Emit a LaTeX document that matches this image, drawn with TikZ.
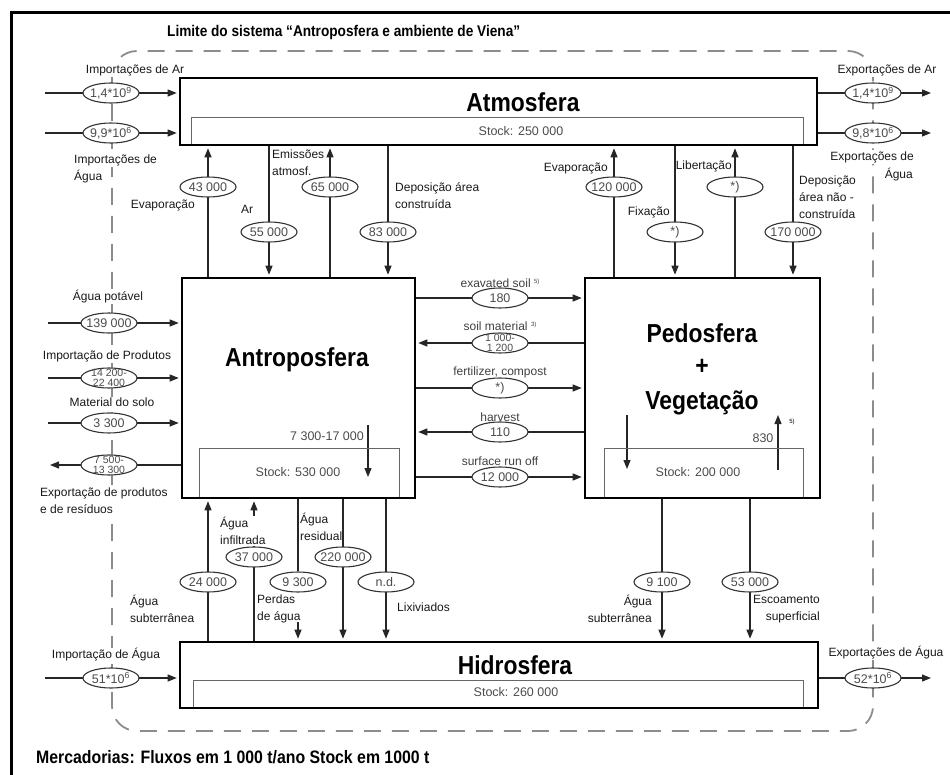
\documentclass[tikz,border=0pt]{standalone}
\usepackage{fontspec}
\setmainfont{Liberation Sans}
\newfontfamily\narrowfont[FakeStretch=0.88]{Liberation Sans}
\usetikzlibrary{shapes.geometric,arrows.meta,backgrounds}

% type sizes
\newcommand\spherefont{\narrowfont\bfseries\fontsize{26}{30}\selectfont}
\newcommand\labfont{\fontsize{12}{17}\selectfont}
\newcommand\valfont{\fontsize{12.5}{13}\selectfont}
\newcommand\pairfont{\fontsize{10.5}{10.5}\selectfont}
\newcommand\headfont{\narrowfont\bfseries\fontsize{15.5}{17}\selectfont}
\newcommand\notefont{\narrowfont\bfseries\fontsize{18}{20}\selectfont}
\newcommand\fnmark[1]{{\fontsize{6}{6}\selectfont\raisebox{4pt}{#1}}}

\tikzset{
  sphere/.style={draw=black, line width=2.6pt, inner sep=0pt},
  stockbox/.style={draw=black!60, line width=0.9pt, inner sep=0pt},
  spheretitle/.style={font=\spherefont, inner sep=0pt},
  stocktext/.style={font=\valfont, text=black!70, inner sep=0pt},
  flow/.style={draw=black!85, line width=1.2pt},
  arr/.style={flow, -{Triangle[length=9pt,width=7pt]}, shorten >=2pt},
  val/.style={ellipse, draw=black!80, line width=1.1pt, fill=white,
    minimum width=56pt, minimum height=20pt, inner xsep=-10pt, inner ysep=-3pt,
    text=black!70, font=\valfont, align=center},
  pairval/.style={val, font=\pairfont, inner ysep=-5pt},
  lbl/.style={inner sep=1pt, font=\labfont, text=black!90},
  flowlbl/.style={lbl, text=black!75},
  boundary/.style={draw=black!45, line width=1.8pt, dash pattern=on 17pt off 11pt,
    rounded corners=25pt},
}

\begin{document}
\begin{tikzpicture}[x=1pt,y=-1pt]
\useasboundingbox (0,0) rectangle (950,775);

% frame
\draw[line width=3pt] (11,775) -- (11,13) -- (950,13);

\node[anchor=west, font=\headfont, inner sep=0pt] (limite) at (167,32)
  {Limite do sistema “Antroposfera e ambiente de Viena”};

% ---------------- compartments ----------------
\node[stockbox, minimum width=612pt, minimum height=28pt] (atmoStock) at (497,131) {};
\node[sphere, minimum width=637pt, minimum height=67pt] (atmo) at (498.5,111.5) {};
\node[spheretitle] (atmoTitle) at (523,102) {Atmosfera};
\node[stocktext] (atmoStockTxt) at (521,131) {Stock: 250 000};

\node[stockbox, minimum width=200pt, minimum height=50pt] (antroStock) at (299,473) {};
\node[sphere, minimum width=233pt, minimum height=220pt] (antro) at (298.5,388) {};
\node[spheretitle] (antroTitle) at (297,360) {Antroposfera};
\node[stocktext] (antroStockTxt) at (298,472) {Stock: 530 000};

\node[stockbox, minimum width=199pt, minimum height=50pt] (pedoStock) at (703.5,473) {};
\node[sphere, minimum width=235pt, minimum height=220pt] (pedo) at (702.5,388) {};
\node[spheretitle] (pedoTitle) at (702,333) {Pedosfera};
\node[spheretitle] (pedoPlus) at (702,367) {+};
\node[spheretitle] (pedoTitleB) at (702,403) {Vegetação};
\node[stocktext] (pedoStockTxt) at (698,472) {Stock: 200 000};

\node[stockbox, minimum width=610pt, minimum height=28pt] (hidroStock) at (498,694) {};
\node[sphere, minimum width=638pt, minimum height=66pt] (hidro) at (499,675) {};
\node[spheretitle] (hidroTitle) at (515,665) {Hidrosfera};
\node[stocktext] (hidroStockTxt) at (516,692) {Stock: 260 000};

% ---------------- air and water across the boundary ----------------
\node[lbl, fill=white] (lArIn) at (135,70) {Importações de Ar};
\node[val] (vArIn) at (111,93) {1,4*10\textsuperscript{9}};
\node[val] (vAgIn) at (111,133) {9,9*10\textsuperscript{6}};
\node[lbl, fill=white, anchor=west] (lAgInA) at (73,160) {Importações de};
\node[lbl, anchor=west] (lAgInB) at (73,177) {Água};
\coordinate (inAr) at (45,93);
\coordinate (inAg) at (45,133);

\node[lbl, fill=white] (lArOut) at (887,70) {Exportações de Ar};
\node[val] (vArOut) at (873,93) {1,4*10\textsuperscript{9}};
\node[val] (vAgOut) at (873,133) {9,8*10\textsuperscript{6}};
\node[lbl, fill=white, anchor=east] (lAgOutA) at (915,157) {Exportações de};
\node[lbl, anchor=east] (lAgOutB) at (914,175) {Água};
\coordinate (outAr) at (933,93);
\coordinate (outAg) at (933,133);

% ---------------- Atmosfera <-> Antroposfera ----------------
\node[val] (v43) at (208,187) {43 000};
\node[lbl, anchor=east] (l43) at (196,205) {Evaporação};
\node[val] (v55) at (269,232) {55 000};
\node[lbl] (l55) at (247,209) {Ar};
\node[val] (v65) at (330,187) {65 000};
\node[lbl, anchor=west, align=left] (l65) at (271,163) {Emissões\\atmosf.};
\node[val] (v83) at (388,232) {83 000};
\node[lbl, anchor=west, align=left] (l83) at (394,196) {Deposição área\\construída};

% ---------------- Atmosfera <-> Pedosfera ----------------
\node[val] (v120) at (614,187) {120 000};
\node[lbl, anchor=east] (l120) at (609,168) {Evaporação};
\node[val] (vFix) at (675,232) {*)};
\node[lbl, anchor=east] (lFix) at (671,212) {Fixação};
\node[val] (vLib) at (735,187) {*)};
\node[lbl, anchor=east] (lLib) at (733,166) {Libertação};
\node[val] (v170) at (793,232) {170 000};
\node[lbl, anchor=west, align=left] (l170) at (798,197) {Deposição\\área não -\\construída};

% ---------------- Antroposfera <-> Pedosfera ----------------
\node[val] (v180) at (500,298) {180};
\node[flowlbl] (l180) at (500,283) {exavated soil \fnmark{5)}};
\node[pairval] (vSoil) at (500,343) {1 000-\\1 200};
\node[flowlbl] (lSoil) at (500,326) {soil material \fnmark{3)}};
\node[val] (vFert) at (500,388) {*)};
\node[flowlbl] (lFert) at (500,372) {fertilizer, compost};
\node[val] (vHarv) at (500,432) {110};
\node[flowlbl] (lHarv) at (500,417) {harvest};
\node[val] (vRun) at (500,477) {12 000};
\node[flowlbl] (lRun) at (500,461) {surface run off};

% stock changes
\node[stocktext] (antroDelta) at (327,436) {7 300-17 000};
\coordinate (antroDeltaA) at (368,425);
\coordinate (antroDeltaB) at (368,479);
\node[stocktext] (pedoDelta) at (763,438) {830};
\node[inner sep=0pt] (pedoDeltaMark) at (792,423) {\fnmark{5)}};
\coordinate (pedoInA) at (627,415);
\coordinate (pedoInB) at (627,471);
\coordinate (pedoOutA) at (778,470);
\coordinate (pedoOutB) at (778,413);

% ---------------- imports and exports of the Antroposfera ----------------
\node[lbl, fill=white] (l139) at (108,297) {Água potável};
\node[val] (v139) at (109,323) {139 000};
\node[lbl, fill=white] (lProd) at (107,356) {Importação de Produtos};
\node[pairval] (vProd) at (109,378) {14 200-\\22 400};
\node[lbl, fill=white] (lSolo) at (112,402) {Material do solo};
\node[val] (vSolo) at (109,423) {3 300};
\node[pairval] (vExp) at (109,465) {7 500-\\13 300};
\node[lbl, fill=white, anchor=west, align=left] (lExp) at (39,501) {Exportação de produtos\\e de resíduos};
\coordinate (in139) at (48,323);
\coordinate (inProd) at (48,378);
\coordinate (inSolo) at (48,423);
\coordinate (outExp) at (48,465);

% ---------------- Antroposfera / Pedosfera <-> Hidrosfera ----------------
\node[val] (v24) at (208,582) {24 000};
\node[lbl, anchor=west, align=left] (l24) at (129,609) {Água\\subterrânea};
\node[val] (v37) at (254,557) {37 000};
\node[lbl, fill=white, anchor=west, align=left] (l37) at (219,531) {Água\\infiltrada};
\node[val] (v93) at (298,582) {9 300};
\node[lbl, anchor=west, align=left] (l93) at (256,609) {Perdas\\de água};
\coordinate (loss) at (298,622);
\node[val] (v220) at (343,557) {220 000};
\node[lbl, anchor=west, align=left] (l220) at (299,527) {Água\\residual};
\node[val] (vnd) at (386,582) {n.d.};
\node[lbl, anchor=west] (lnd) at (396,607) {Lixiviados};
\node[val] (v91) at (662,582) {9 100};
\node[lbl, anchor=east, align=right] (l91) at (653,609) {Água\\subterrânea};
\node[val] (v53) at (750,582) {53 000};
\node[lbl, anchor=east, align=right] (l53) at (821,609) {Escoamento\\superficial};

\node[lbl, fill=white] (lHidIn) at (106,655) {Importação de Água};
\node[val] (v51) at (111,678) {51*10\textsuperscript{6}};
\node[lbl, fill=white] (lHidOut) at (886,653) {Exportações de Água};
\node[val] (v52) at (873,678) {52*10\textsuperscript{6}};
\coordinate (inHid) at (45,678);
\coordinate (outHid) at (933,678);

\node[anchor=west, font=\notefont, inner sep=0pt] (note) at (36,757)
  {Mercadorias: Fluxos em 1 000 t/ano Stock em 1000 t};

% ---------------- boundary and flow lines, behind labels ----------------
\begin{scope}[on background layer]
  \draw[boundary] (112,51) rectangle (873,731);

  \draw[arr] (inAr) -- (atmo.west |- inAr);
  \draw[arr] (inAg) -- (atmo.west |- inAg);
  \draw[arr] (atmo.east |- outAr) -- (outAr);
  \draw[arr] (atmo.east |- outAg) -- (outAg);

  \draw[arr] (antro.north -| v43) -- (atmo.south -| v43);
  \draw[arr] (atmo.south -| v55) -- (antro.north -| v55);
  \draw[arr] (antro.north -| v65) -- (atmo.south -| v65);
  \draw[arr] (atmo.south -| v83) -- (antro.north -| v83);

  \draw[arr] (pedo.north -| v120) -- (atmo.south -| v120);
  \draw[arr] (atmo.south -| vFix) -- (pedo.north -| vFix);
  \draw[arr] (pedo.north -| vLib) -- (atmo.south -| vLib);
  \draw[arr] (atmo.south -| v170) -- (pedo.north -| v170);

  \draw[arr] (antro.east |- v180) -- (pedo.west |- v180);
  \draw[arr] (pedo.west |- vSoil) -- (antro.east |- vSoil);
  \draw[arr] (antro.east |- vFert) -- (pedo.west |- vFert);
  \draw[arr] (pedo.west |- vHarv) -- (antro.east |- vHarv);
  \draw[arr] (antro.east |- vRun) -- (pedo.west |- vRun);

  \draw[arr] (antroDeltaA) -- (antroDeltaB);
  \draw[arr] (pedoInA) -- (pedoInB);
  \draw[arr] (pedoOutA) -- (pedoOutB);

  \draw[arr] (in139) -- (antro.west |- in139);
  \draw[arr] (inProd) -- (antro.west |- inProd);
  \draw[arr] (inSolo) -- (antro.west |- inSolo);
  \draw[arr] (antro.west |- outExp) -- (outExp);

  \draw[arr] (hidro.north -| v24) -- (antro.south -| v24);
  \draw[arr] (hidro.north -| v37) -- (antro.south -| v37);
  \draw[flow] (antro.south -| v93) -- (v93);
  \draw[arr] (loss) -- (hidro.north -| loss);
  \draw[arr] (antro.south -| v220) -- (hidro.north -| v220);
  \draw[arr] (antro.south -| vnd) -- (hidro.north -| vnd);
  \draw[arr] (pedo.south -| v91) -- (hidro.north -| v91);
  \draw[arr] (pedo.south -| v53) -- (hidro.north -| v53);

  \draw[arr] (inHid) -- (hidro.west |- inHid);
  \draw[arr] (hidro.east |- outHid) -- (outHid);
\end{scope}
\end{tikzpicture}
\end{document}
